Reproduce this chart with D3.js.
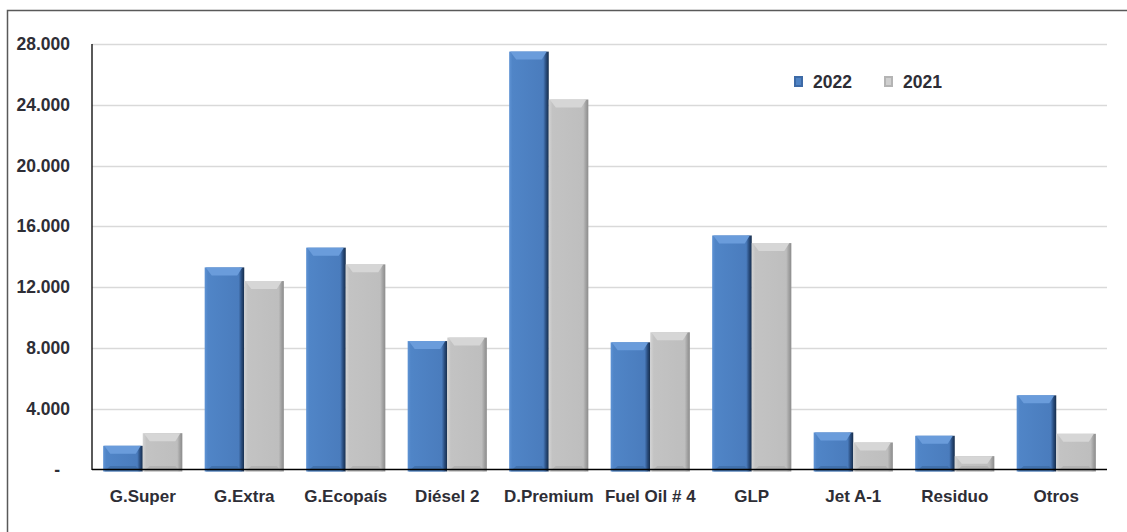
<!DOCTYPE html>
<html lang="es">
<head>
<meta charset="UTF-8"/>
<title>Ventas por producto 2022 vs 2021</title>
<script src="https://d3js.org/d3.v7.min.js"></script>
<style>
	body { margin: 0; background: #fff; }
	text { font-family: "Liberation Sans", Arial, sans-serif; font-weight: bold; fill: #2e2e36; }
</style>
</head>
<body>
<script>
var w = 1127;
var h = 532;

var categories = ["G.Super", "G.Extra", "G.Ecopaís", "Diésel 2", "D.Premium", "Fuel Oil # 4", "GLP", "Jet A-1", "Residuo", "Otros"];
var values2022 = [1560, 13300, 14600, 8450, 27500, 8370, 15400, 2440, 2220, 4880];
var values2021 = [2390, 12400, 13500, 8680, 24350, 9030, 14900, 1780, 880, 2350];
var seriesNames = ["2022", "2021"];
var yTicks = [0, 4000, 8000, 12000, 16000, 20000, 24000, 28000];

var svg = d3.select("body")
	.append("svg")
	.attr("width", w)
	.attr("height", h);

// gradients for the bevelled bars
var defs = svg.append("defs");
function grad(id, stops) {
	var g = defs.append("linearGradient").attr("id", id)
		.attr("x1", "0%").attr("x2", "100%").attr("y1", "0%").attr("y2", "0%");
	stops.forEach(function (s) {
		g.append("stop").attr("offset", s[0]).attr("stop-color", s[1]);
	});
}
grad("blueBody", [["0%", "#5f93d4"], ["8%", "#5085c7"], ["86%", "#4a7cbd"], ["93%", "#2a4d7e"], ["100%", "#152c4a"]]);
grad("greyBody", [["0%", "#d4d4d4"], ["9%", "#c3c3c3"], ["87%", "#bebebe"], ["94%", "#a0a0a0"], ["100%", "#8c8c8c"]]);

var colors = {
	"2022": { body: "url(#blueBody)", top: "#6a9cdb", bottom: "#3b679f", legend: "#3d6aa6" },
	"2021": { body: "url(#greyBody)", top: "#d6d6d6", bottom: "#a8a8a8", legend: "#b4b4b4" }
};

// outer frame
svg.append("rect")
	.attr("x", 7.5).attr("y", 10.5)
	.attr("width", 1140).attr("height", 540)
	.attr("fill", "none")
	.attr("stroke", "#595959")
	.attr("stroke-width", 1.5);

var x0 = d3.scaleBand()
	.domain(categories)
	.range([92, 1107])
	.paddingInner(0.22)
	.paddingOuter(0.11);

var x1 = d3.scaleBand()
	.domain(seriesNames)
	.range([0, x0.bandwidth()]);

var y = d3.scaleLinear()
	.domain([0, 28000])
	.range([469.5, 44]);

// gridlines
svg.append("g")
	.selectAll("line")
	.data(yTicks.slice(1))
	.enter()
	.append("line")
	.attr("x1", 92).attr("x2", 1107)
	.attr("y1", function (d) { return Math.round(y(d)) + 0.5; })
	.attr("y2", function (d) { return Math.round(y(d)) + 0.5; })
	.attr("stroke", "#d9d9d9")
	.attr("stroke-width", 1.5);

// y axis
var yAxis = d3.axisLeft(y)
	.tickValues(yTicks)
	.tickSize(0)
	.tickPadding(22)
	.tickFormat(function (d) {
		return d === 0 ? "-" : d3.format(",")(d).replace(/,/g, ".");
	});
var gy = svg.append("g")
	.attr("transform", "translate(92,0)")
	.call(yAxis);
gy.select(".domain").remove();
gy.selectAll("text").attr("font-size", "17.5px").attr("fill", "#2e2e36")
	.attr("font-family", "Liberation Sans, Arial, sans-serif");
gy.selectAll(".tick").filter(function (d) { return d === 0; }).select("text")
	.attr("dx", "-10px");

// bars
var data = [];
categories.forEach(function (c, i) {
	data.push({ cat: c, s: "2022", v: values2022[i] });
	data.push({ cat: c, s: "2021", v: values2021[i] });
});

var bars = svg.append("g")
	.selectAll("g")
	.data(data)
	.enter()
	.append("g");

bars.each(function (d) {
	var g = d3.select(this);
	var bx = x0(d.cat) + x1(d.s);
	var bw = x1.bandwidth();
	var top = y(d.v);
	var bottom = y(0) + 2;
	var bh = bottom - top;
	var bev = Math.min(8, bh / 2);
	var inset = Math.min(7, bw / 4);
	var c = colors[d.s];
	g.append("rect")
		.attr("x", bx).attr("y", top)
		.attr("width", bw).attr("height", bh)
		.attr("fill", c.body);
	g.append("polygon")
		.attr("points", [[bx + 1, top], [bx + bw - 2, top], [bx + bw - inset, top + bev], [bx + inset, top + bev]].join(" "))
		.attr("fill", c.top);
	g.append("polygon")
		.attr("points", [[bx + inset, bottom - bev * 0.7], [bx + bw - inset, bottom - bev * 0.7], [bx + bw - 2, bottom], [bx + 1, bottom]].join(" "))
		.attr("fill", c.bottom)
		.attr("opacity", 0.6);
});

// axis lines
svg.append("line")
	.attr("x1", 92).attr("x2", 92)
	.attr("y1", 44).attr("y2", 470)
	.attr("stroke", "#000").attr("stroke-width", 1.3);
svg.append("line")
	.attr("x1", 92).attr("x2", 1107)
	.attr("y1", 469.5).attr("y2", 469.5)
	.attr("stroke", "#000").attr("stroke-width", 1.3);

// category labels
svg.append("g")
	.selectAll("text")
	.data(categories)
	.enter()
	.append("text")
	.attr("x", function (d) { return x0(d) + x0.bandwidth() / 2; })
	.attr("y", 502)
	.attr("text-anchor", "middle")
	.attr("font-size", "17px")
	.text(function (d) { return d; });

// legend
var legendX = [794, 884];
var legend = svg.append("g")
	.selectAll("g")
	.data(seriesNames)
	.enter()
	.append("g")
	.attr("transform", function (d, i) { return "translate(" + legendX[i] + ",76)"; });
legend.append("rect")
	.attr("width", 9).attr("height", 11)
	.attr("fill", function (d) { return colors[d].legend; });
legend.append("rect")
	.attr("x", 2).attr("y", 2)
	.attr("width", 5).attr("height", 7)
	.attr("fill", function (d) { return d === "2022" ? "#4f83c4" : "#cfcfcf"; });
legend.append("text")
	.attr("x", 19)
	.attr("y", 12)
	.attr("font-size", "17.5px")
	.text(function (d) { return d; });
</script>
</body>
</html>
